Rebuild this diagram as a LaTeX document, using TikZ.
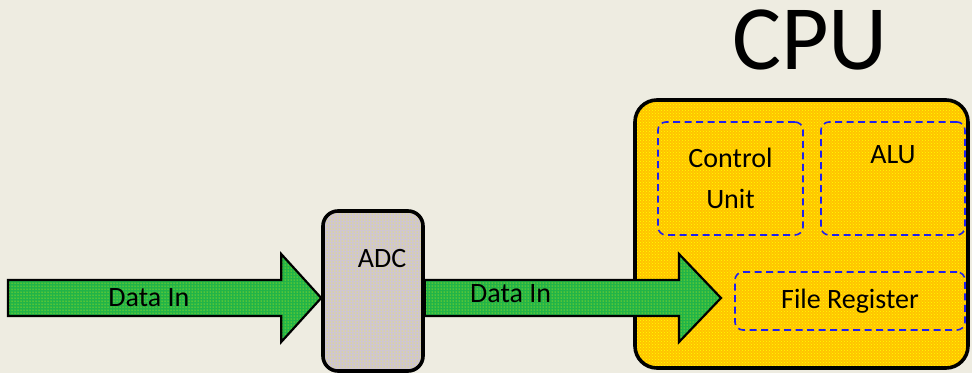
\documentclass[tikz,border=0pt]{standalone}
\usepackage{fontspec}
\setmainfont{Carlito}
\usetikzlibrary{positioning,patterns,calc}

\definecolor{slidebg}{HTML}{EEECE1}
\definecolor{arrowgreen}{HTML}{22B448}
\definecolor{dotyellow}{HTML}{FFFF00}
\definecolor{adclilac}{HTML}{CFC6D2}
\definecolor{cpuorange}{HTML}{FFC400}
\definecolor{unitblue}{HTML}{2020EE}

\begin{document}
\begin{tikzpicture}[x=1pt,y=1pt,
  txt/.style={font=\fontsize{28}{41}\selectfont,align=center,inner sep=0pt},
  dataarrow/.style={draw=black,line width=2.2pt,preaction={fill=arrowgreen},
    pattern=dots,pattern color=dotyellow},
  adcbox/.style={draw=black,line width=3.6pt,rounded corners=15pt,
    preaction={fill=adclilac},pattern=dots,pattern color=dotyellow,
    minimum width=100pt,minimum height=160pt},
  cpubox/.style={draw=black,line width=3.6pt,rounded corners=22pt,
    preaction={fill=cpuorange},pattern=crosshatch dots,pattern color=dotyellow,
    minimum width=333pt,minimum height=268pt},
  unitbox/.style={draw=unitblue,line width=1.6pt,dash pattern=on 7pt off 4.5pt,
    rounded corners=8pt,txt}]

\fill[slidebg] (0,0) rectangle (972,373);
\useasboundingbox (0,0) rectangle (972,373);

% blocks
\node[adcbox] (adc) at (373,82) {};
\node[txt] (adctext) at ([xshift=9pt,yshift=-49pt]adc.north) {ADC};

\node[cpubox] (cpu) at (801.5,139) {};
\node[font=\fontsize{92}{92}\selectfont,inner sep=0pt,above=28pt of cpu.north,xshift=8.5pt] (cputitle) {CPU};

\node[unitbox,minimum width=145pt,minimum height=113pt] (ctrl) at (730.5,194.5) {Control\\Unit};
\node[unitbox,minimum width=144pt,minimum height=113pt] (alu) at (893,194.5) {};
\node[txt] (alutext) at ([yshift=-33pt]alu.north) {ALU};
\node[unitbox,minimum width=230pt,minimum height=58pt] (freg) at (850,72) {File Register};

% data path
\coordinate (in1) at (8,75);
\coordinate (cpuin) at (721,75);

\draw[dataarrow] let \p1=(in1), \p2=(adc.west |- in1) in
  (\x1,\y1+18pt) -- (\x2-40pt,\y1+18pt) -- (\x2-40pt,\y1+44pt) -- (\p2)
  -- (\x2-40pt,\y1-44pt) -- (\x2-40pt,\y1-18pt) -- (\x1,\y1-18pt) -- cycle;
\node[txt] (lbl1) at ($(in1)!0.45!(adc.west |- in1)$) {Data In};

\draw[dataarrow] let \p1=(adc.east |- in1), \p2=(cpuin) in
  (\x1,\y1+18pt) -- (\x2-42pt,\y1+18pt) -- (\x2-42pt,\y1+44pt) -- (\p2)
  -- (\x2-42pt,\y1-44pt) -- (\x2-42pt,\y1-18pt) -- (\x1,\y1-18pt) -- cycle;
\node[txt] (lbl2) at ([yshift=4pt]$(adc.east |- in1)!0.29!(cpuin)$) {Data In};

\end{tikzpicture}
\end{document}
